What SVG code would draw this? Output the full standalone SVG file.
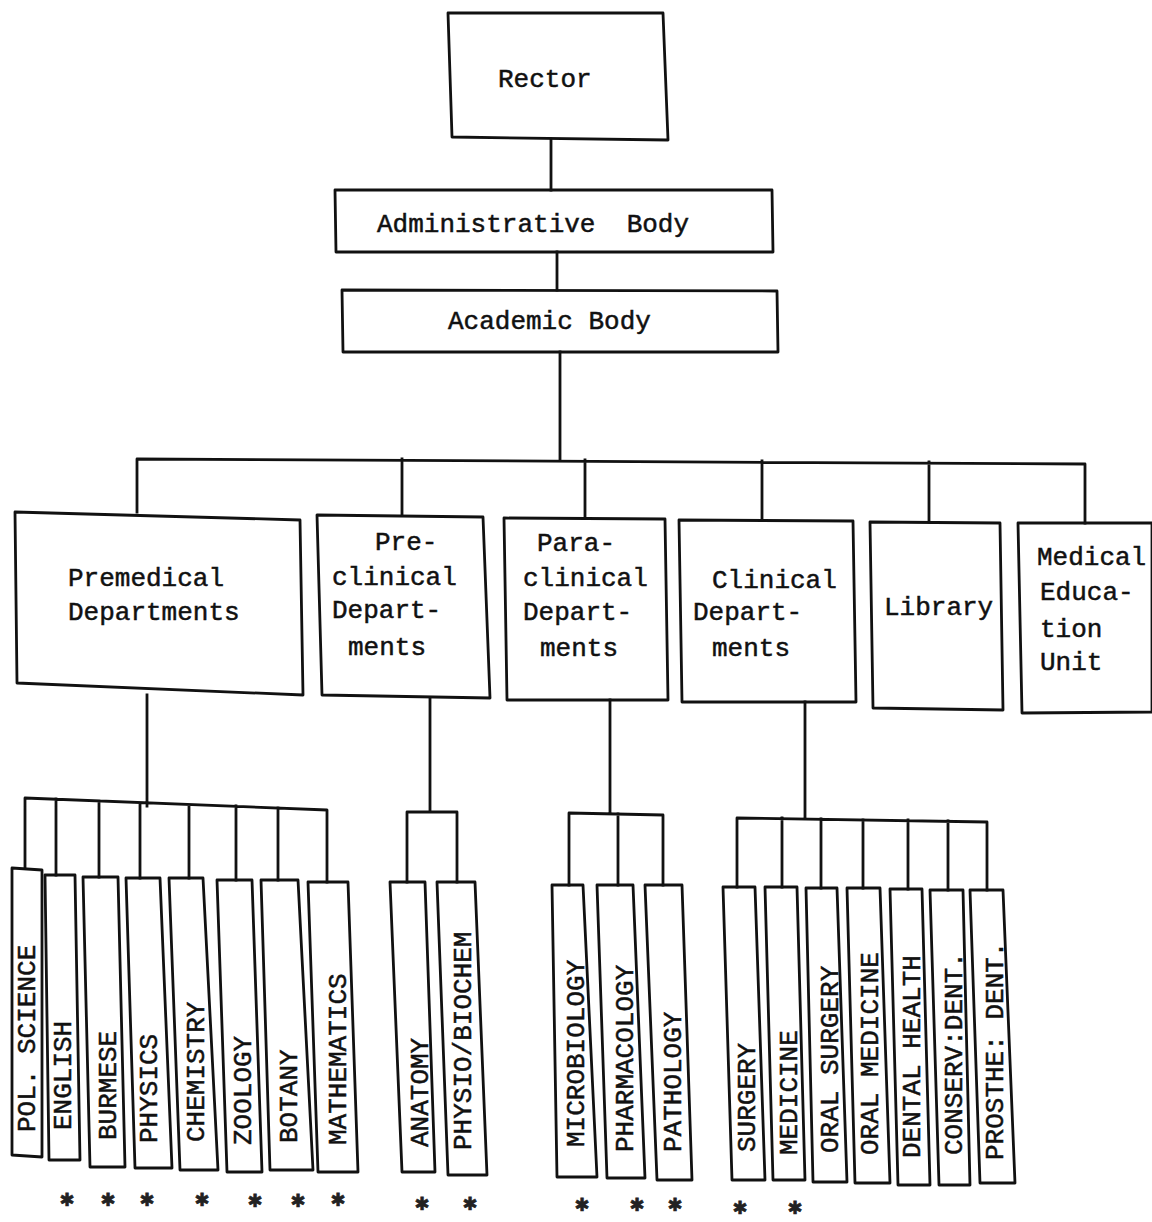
<svg xmlns="http://www.w3.org/2000/svg" width="1152" height="1222" viewBox="0 0 1152 1222">
<style>
.b{fill:none;stroke:#111;stroke-width:2.8;stroke-linejoin:round}
.l{fill:none;stroke:#111;stroke-width:2.8;stroke-linecap:square;stroke-linejoin:round}
.t{font-family:"Liberation Mono","DejaVu Sans Mono",monospace;font-size:26px;fill:#111;stroke:#111;stroke-width:0.5}
.s{font-family:"DejaVu Sans",sans-serif;font-size:18px;font-weight:bold;fill:#222;stroke:#222;stroke-width:0.6;text-anchor:middle}
</style>
<rect width="1152" height="1222" fill="#fff"/>
<g id="connectors">
<path class="l" d="M551 139V190M557 252V290M560 352V460"/>
<path class="l" d="M137 512V459L1085 464V523M402 459V515M585 460V518M762 461V520M929 462V522"/>
<path class="l" d="M147 695V806M25 868V798L327 810V882M56 799V875M99 801V877M140 803V878M189 805V878M236 806V880M278 808V880"/>
<path class="l" d="M430 698V812M407 882V812H457V882"/>
<path class="l" d="M610 700V813M569 885V813L663 815V885M618 814V885"/>
<path class="l" d="M805 702V818M737 887V818L987 822V890M782 818V887M821 819V888M863 820V888M908 820V889M948 821V890"/>
</g>
<g id="rector"><polygon class="b" points="448,13 663,13 668,140 452,137"/><text class="t" x="498" y="87">Rector</text></g>
<g id="admin"><polygon class="b" points="335,190 772,190 773,252 336,252"/><text class="t" x="377" y="232" xml:space="preserve">Administrative  Body</text></g>
<g id="academic"><polygon class="b" points="342,290 777,291 778,352 343,352"/><text class="t" x="448" y="329">Academic Body</text></g>
<g id="premedical"><polygon class="b" points="15,512 300,520 303,695 17,683"/><text class="t" x="68" y="586">Premedical</text><text class="t" x="68" y="620">Departments</text></g>
<g id="preclinical"><polygon class="b" points="317,515 483,517 490,698 322,695"/><text class="t" x="375" y="550">Pre-</text><text class="t" x="332" y="585">clinical</text><text class="t" x="332" y="618">Depart-</text><text class="t" x="348" y="655">ments</text></g>
<g id="paraclinical"><polygon class="b" points="504,518 665,519 668,700 507,700"/><text class="t" x="537" y="551">Para-</text><text class="t" x="523" y="586">clinical</text><text class="t" x="523" y="620">Depart-</text><text class="t" x="540" y="656">ments</text></g>
<g id="clinical"><polygon class="b" points="679,520 853,521 856,702 682,702"/><text class="t" x="712" y="588">Clinical</text><text class="t" x="693" y="620">Depart-</text><text class="t" x="712" y="656">ments</text></g>
<g id="library"><polygon class="b" points="870,522 1000,523 1003,710 873,708"/><text class="t" x="884" y="615">Library</text></g>
<g id="meu"><polygon class="b" points="1018,523 1152,523 1152,712 1022,713"/><text class="t" x="1037" y="565">Medical</text><text class="t" x="1040" y="600">Educa-</text><text class="t" x="1040" y="637">tion</text><text class="t" x="1040" y="670">Unit</text></g>
<g id="pol"><polygon class="b" points="12,868 42,870 42,1157 12,1155"/><text class="t" transform="translate(35,1132) rotate(-90)">POL. SCIENCE</text></g>
<g id="english"><polygon class="b" points="45,875 75,875 80,1160 49,1160"/><text class="t" transform="translate(71,1130) rotate(-90)">ENGLISH</text></g>
<g id="burmese"><polygon class="b" points="83,877 118,877 125,1167 90,1167"/><text class="t" transform="translate(116,1140) rotate(-90)">BURMESE</text></g>
<g id="physics"><polygon class="b" points="126,878 160,878 172,1168 135,1168"/><text class="t" transform="translate(157,1143) rotate(-90)">PHYSICS</text></g>
<g id="chemistry"><polygon class="b" points="169,878 203,878 218,1170 180,1170"/><text class="t" transform="translate(204,1142) rotate(-90)">CHEMISTRY</text></g>
<g id="zoology"><polygon class="b" points="217,880 252,880 262,1172 227,1172"/><text class="t" transform="translate(251,1145) rotate(-90)">ZOOLOGY</text></g>
<g id="botany"><polygon class="b" points="261,880 298,880 313,1170 270,1170"/><text class="t" transform="translate(297,1143) rotate(-90)">BOTANY</text></g>
<g id="mathematics"><polygon class="b" points="308,882 348,882 358,1172 318,1172"/><text class="t" transform="translate(346,1145) rotate(-90)">MATHEMATICS</text></g>
<g id="anatomy"><polygon class="b" points="390,882 425,882 435,1172 402,1172"/><text class="t" transform="translate(428,1147) rotate(-90)">ANATOMY</text></g>
<g id="physio"><polygon class="b" points="437,882 475,882 487,1175 448,1175"/><text class="t" transform="translate(471,1150) rotate(-90)">PHYSIO/BIOCHEM</text></g>
<g id="micro"><polygon class="b" points="552,885 583,885 597,1177 557,1177"/><text class="t" transform="translate(584,1147) rotate(-90)">MICROBIOLOGY</text></g>
<g id="pharma"><polygon class="b" points="597,885 633,885 645,1178 607,1178"/><text class="t" transform="translate(633,1152) rotate(-90)">PHARMACOLOGY</text></g>
<g id="patho"><polygon class="b" points="645,885 682,885 692,1180 657,1180"/><text class="t" transform="translate(681,1152) rotate(-90)">PATHOLOGY</text></g>
<g id="surgery"><polygon class="b" points="723,887 755,887 765,1180 732,1180"/><text class="t" transform="translate(755,1152) rotate(-90)">SURGERY</text></g>
<g id="medicine"><polygon class="b" points="765,887 797,887 805,1180 773,1180"/><text class="t" transform="translate(797,1155) rotate(-90)">MEDICINE</text></g>
<g id="oralsurgery"><polygon class="b" points="806,888 837,888 847,1182 813,1182"/><text class="t" transform="translate(838,1153) rotate(-90)">ORAL SURGERY</text></g>
<g id="oralmedicine"><polygon class="b" points="847,888 880,888 890,1183 855,1183"/><text class="t" transform="translate(878,1155) rotate(-90)">ORAL MEDICINE</text></g>
<g id="dentalhealth"><polygon class="b" points="890,889 922,889 930,1185 898,1185"/><text class="t" transform="translate(920,1158) rotate(-90)">DENTAL HEALTH</text></g>
<g id="conserv"><polygon class="b" points="930,890 963,890 970,1185 939,1185"/><text class="t" transform="translate(962,1155) rotate(-90)">CONSERV:DENT.</text></g>
<g id="prosthe"><polygon class="b" points="970,890 1003,890 1015,1183 980,1183"/><text class="t" transform="translate(1003,1160) rotate(-90)">PROSTHE: DENT.</text></g>
<g id="marks">
<text class="s" x="67" y="1206">✱</text><text class="s" x="108" y="1206">✱</text><text class="s" x="147" y="1206">✱</text><text class="s" x="202" y="1206">✱</text><text class="s" x="255" y="1207">✱</text><text class="s" x="298" y="1207">✱</text><text class="s" x="338" y="1206">✱</text>
<text class="s" x="422" y="1210">✱</text><text class="s" x="470" y="1210">✱</text><text class="s" x="582" y="1211">✱</text><text class="s" x="637" y="1211">✱</text><text class="s" x="675" y="1211">✱</text>
<text class="s" x="740" y="1214">✱</text><text class="s" x="795" y="1214">✱</text>
</g>
</svg>
